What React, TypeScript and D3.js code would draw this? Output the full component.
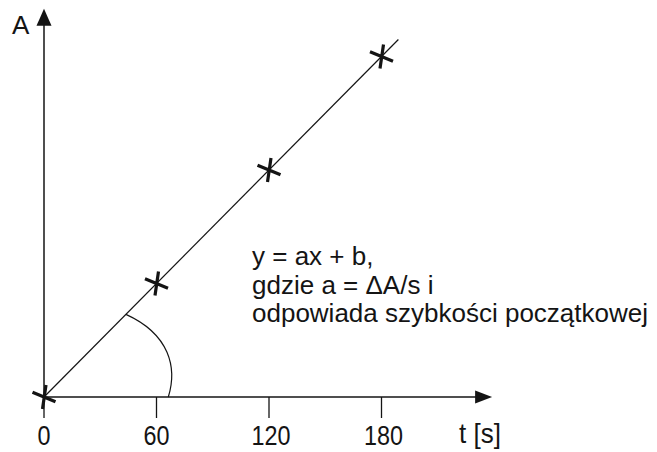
import React from "react";
import * as d3 from "d3";

// measured points (t in seconds, A in arbitrary units)
const tValues = [0, 60, 120, 180];
const aValues = [0, 1, 2, 3];
const xTicks = [0, 60, 120, 180];
const xTickLabels = ["0", "60", "120", "180"];
const fitT = [0, 189];
const slope = 1 / 60;
const intercept = 0;
const noteLines = [
  "y = ax + b,",
  "gdzie a = \u0394A/s i",
  "odpowiada szybko\u015bci pocz\u0105tkowej",
];

const W = 657;
const H = 452;
const ink = "#141414";

export default function App() {
  const x = d3.scaleLinear().domain([0, 240]).range([44, 494]);
  const y = d3.scaleLinear().domain([0, 3]).range([397, 56.5]);

  const x0 = x(0);
  const y0 = y(0);
  const xTip = x(239);
  const yTip = y(3.42);

  const fitLine = d3
    .line<number>()
    .x((t) => x(t))
    .y((t) => y(slope * t + intercept));

  // angle arc between fitted line and t axis
  const arcStartT = 43.7;
  const sx = x(arcStartT);
  const sy = y(slope * arcStartT + intercept);
  const ex = x(66.3);
  const ey = y0;
  const arcPath = d3.path();
  arcPath.moveTo(sx, sy);
  arcPath.bezierCurveTo(sx + 44, sy + 20, ex + 9, ey - 29, ex, ey);

  const marker = (cx: number, cy: number) =>
    `M${cx - 11.5},${cy - 4.8}L${cx + 11.5},${cy + 4.8}M${cx + 2},${cy - 12}L${cx - 1.5},${cy + 12}`;

  return (
    <svg
      width={W}
      height={H}
      style={{ position: "absolute", left: 0, top: 0, background: "#fff" }}
      fontFamily="'Liberation Sans', Arial, sans-serif"
    >
      {/* axes */}
      <line x1={x0} y1={y0} x2={x0} y2={yTip + 14} stroke={ink} strokeWidth={1.5} />
      <path d={`M${x0},${yTip}L${x0 - 7.5},${yTip + 17}L${x0 + 7.5},${yTip + 17}Z`} fill={ink} />
      <line x1={x0} y1={y0} x2={xTip - 14} y2={y0} stroke={ink} strokeWidth={1.5} />
      <path d={`M${xTip},${y0}L${xTip - 17},${y0 - 6.5}L${xTip - 17},${y0 + 6.5}Z`} fill={ink} />

      {xTicks.map((t, i) => (
        <g key={t}>
          <line x1={x(t)} y1={y0} x2={x(t)} y2={y0 + 21} stroke={ink} strokeWidth={1.3} />
          <text
            transform={`translate(${x(t) + (t >= 100 ? 2 : 0)},${y0 + 48}) scale(0.85,1)`}
            textAnchor="middle"
            fontSize={27.5}
            fill={ink}
          >
            {xTickLabels[i]}
          </text>
        </g>
      ))}

      <text x={x0 - 32} y={34} fontSize={26} fill={ink}>
        A
      </text>
      <text
        transform={`translate(${459},${443}) scale(0.93,1)`}
        fontSize={28}
        fill={ink}
      >
        t [s]
      </text>

      {/* fitted line */}
      <path d={fitLine(fitT) ?? ""} fill="none" stroke={ink} strokeWidth={1.2} />
      <path d={arcPath.toString()} fill="none" stroke={ink} strokeWidth={1.2} />

      {/* data points */}
      {tValues.map((t, i) => (
        <path key={t} d={marker(x(t), y(aValues[i]))} stroke={ink} strokeWidth={3.2} fill="none" />
      ))}

      {noteLines.map((s, i) => (
        <text key={i} x={252} y={265 + i * 28.5} fontSize={26} fill={ink}>
          {s}
        </text>
      ))}
    </svg>
  );
}
